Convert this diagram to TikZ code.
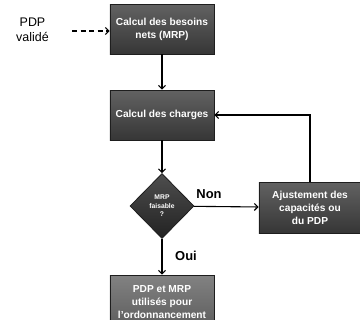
\documentclass[tikz,border=0pt]{standalone}
\usepackage{fontspec}
\setmainfont{Liberation Sans}
\usetikzlibrary{shapes.geometric,arrows.meta}
\definecolor{btop}{HTML}{626262}
\definecolor{bbot}{HTML}{363636}
\definecolor{ltop}{HTML}{828282}
\definecolor{lbot}{HTML}{5C5C5C}
\definecolor{dtop}{HTML}{4E4E4E}
\definecolor{dbot}{HTML}{222222}
\definecolor{edge}{HTML}{1E1E1E}
\tikzset{
  procbox/.style={rectangle, draw=edge, line width=0.8bp, top color=btop, bottom color=bbot,
    text=white, align=center, inner sep=0pt, minimum width=104bp, minimum height=50bp,
    font=\fontsize{10.2}{13}\selectfont\bfseries},
  lightbox/.style={procbox, top color=ltop, bottom color=lbot},
  decide/.style={diamond, draw=edge, line width=0.8bp, top color=dtop, bottom color=dbot,
    text=white, align=center, inner sep=0pt, minimum width=64bp, minimum height=65bp,
    font=\fontsize{6.8}{8.5}\selectfont\bfseries},
  arr/.style={line width=1.1bp, -{Straight Barb[length=3.5bp,width=7bp]}},
  lbl/.style={font=\fontsize{13}{15}\selectfont\bfseries, inner sep=0pt},
  plain/.style={font=\fontsize{12.5}{15}\selectfont, align=center, inner sep=0pt}
}
\begin{document}
\begin{tikzpicture}[x=1bp,y=-1bp]
\useasboundingbox (0,0) rectangle (360,320);
\clip (0,0) rectangle (360,320);
\node[procbox] (b1) at (162,29) {Calcul des besoins\\nets (MRP)};
\node[procbox] (b2) at (162,115) {Calcul des charges};
\node[decide] (d) at (162,206) {MRP\\faisable\\?};
\node[procbox, minimum width=102bp, minimum height=51bp] (b3) at (310,207.5) {Ajustement des\\capacités ou\\du PDP};
\node[lightbox, minimum height=54bp] (b4) at (162,302) {PDP et MRP\\utilisés pour\\l'ordonnancement};
\node[plain] (p) at (32.5,30) {PDP\\validé};
\coordinate (s) at (72,31);
\draw[arr, dash pattern=on 5bp off 3.5bp] (s) -- (b1.west |- s);
\draw[arr] (b1) -- (b2);
\draw[arr] (b2) -- (d);
\draw[arr] (d) -- (b4);
\draw[arr] (d) -- (b3);
\draw[arr] (b3.north) |- (b2.east);
\node[lbl] (non) at (209,194) {Non};
\node[lbl] (oui) at (186,256) {Oui};
\end{tikzpicture}
\end{document}
